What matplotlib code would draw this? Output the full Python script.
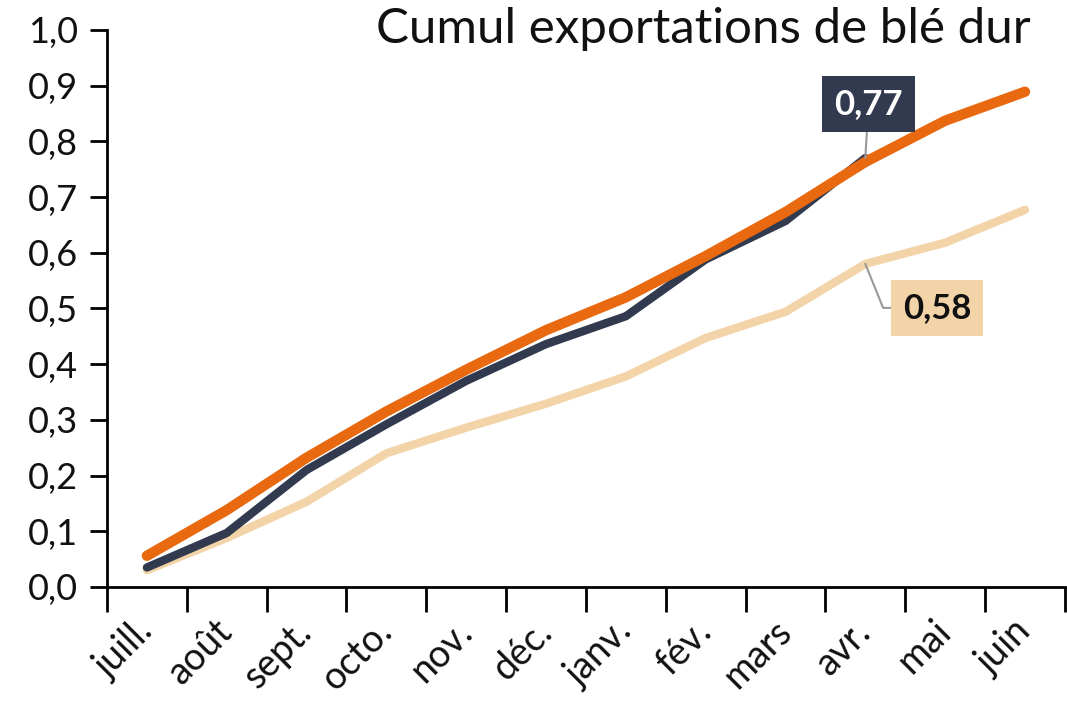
import matplotlib
matplotlib.use("Agg")
import matplotlib.pyplot as plt
from matplotlib.ticker import FixedLocator, FuncFormatter

plt.rcParams["font.family"] = ["Lato", "DejaVu Sans"]

# --- données ---
mois = ["juill.", "août", "sept.", "octo.", "nov.", "déc.",
        "janv.", "fév.", "mars", "avr.", "mai", "juin"]
campagne_orange = [0.056, 0.138, 0.232, 0.315, 0.390, 0.461,
                   0.520, 0.594, 0.673, 0.763, 0.837, 0.889]
campagne_actuelle = [0.035, 0.097, 0.210, 0.292, 0.370, 0.436,
                     0.486, 0.588, 0.657, 0.77]
campagne_beige = [0.030, 0.088, 0.153, 0.240, 0.286, 0.329,
                  0.378, 0.447, 0.494, 0.58, 0.618, 0.677]

ORANGE = "#E8690F"
MARINE = "#313A4E"
BEIGE = "#F2D4A8"
TEXTE = "#111111"

fig = plt.figure(figsize=(10.67, 7.12), dpi=100)
ax = fig.add_axes([0.1003, 0.1756, 0.8977, 0.7824])

x = list(range(len(mois)))
ax.plot(x, campagne_beige, color=BEIGE, lw=6, solid_capstyle="round",
        solid_joinstyle="round", zorder=2)
ax.plot(x[:len(campagne_actuelle)], campagne_actuelle, color=MARINE, lw=6,
        solid_capstyle="round", solid_joinstyle="round", zorder=3)
ax.plot(x, campagne_orange, color=ORANGE, lw=7.5, solid_capstyle="round",
        solid_joinstyle="round", zorder=4)

ax.set_xlim(-0.5, len(mois) - 0.5)
ax.set_ylim(0, 1.0)

# axes
for s in ("top", "right"):
    ax.spines[s].set_visible(False)
ax.spines["left"].set_linewidth(2)
ax.spines["bottom"].set_linewidth(2)

ax.yaxis.set_major_locator(FixedLocator([i / 10 for i in range(11)]))
ax.yaxis.set_major_formatter(FuncFormatter(lambda v, p: f"{v:.1f}".replace(".", ",")))
ax.tick_params(axis="y", direction="out", length=12, width=2, pad=9,
               labelsize=26, labelcolor=TEXTE)

ax.set_xticks(x)
ax.set_xticklabels(mois, rotation=45, ha="right", va="center",
                   rotation_mode="anchor")
ax.set_xticks([i - 0.5 for i in range(len(mois) + 1)], minor=True)
ax.tick_params(axis="x", which="major", length=0, pad=28, labelsize=27,
               labelcolor=TEXTE)
ax.tick_params(axis="x", which="minor", direction="out", length=18, width=2)

# titre
fig.text(0.966, 0.99, "Cumul exportations de blé dur", ha="right", va="top",
         fontsize=35.5, color=TEXTE)

# étiquettes de valeur
i_nav = len(campagne_actuelle) - 1
v_nav = campagne_actuelle[-1]
ax.annotate(f"{v_nav:.2f}".replace(".", ","), xy=(i_nav, v_nav),
            xytext=(i_nav + 0.04, 0.867), ha="center", va="center",
            fontsize=25, fontweight="bold", color="white",
            bbox=dict(boxstyle="square,pad=0.35", fc=MARINE, ec="none"),
            arrowprops=dict(arrowstyle="-", color="#999999", lw=1.5,
                            shrinkA=0, shrinkB=0), zorder=6)

i_bei = 9
v_bei = campagne_beige[i_bei]
ax.annotate(f"{v_bei:.2f}".replace(".", ","), xy=(i_bei, v_bei),
            xytext=(i_bei + 0.9, 0.501), ha="center", va="center",
            fontsize=25, fontweight="bold", color=TEXTE,
            bbox=dict(boxstyle="square,pad=0.35", fc=BEIGE, ec="none"),
            arrowprops=dict(arrowstyle="-", color="#999999", lw=1.5,
                            shrinkA=0, shrinkB=0,
                            connectionstyle="angle,angleA=0,angleB=-68,rad=0"),
            zorder=6)

fig.savefig("out.png", dpi=100)
